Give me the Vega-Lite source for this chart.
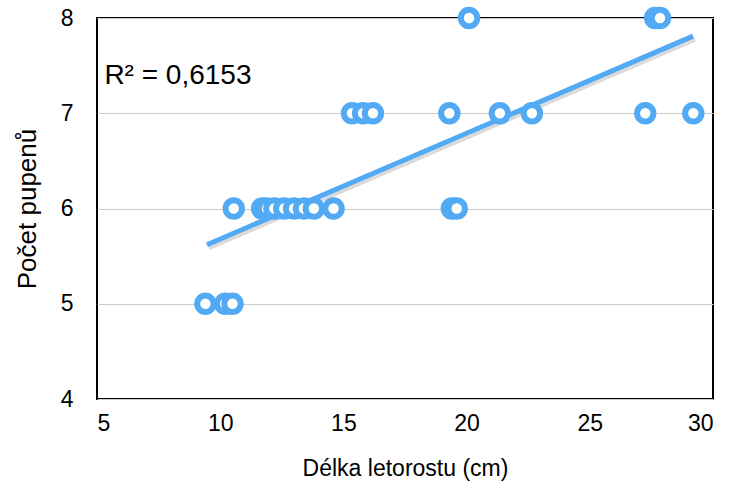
{
  "$schema": "https://vega.github.io/schema/vega-lite/v6.json",
  "autosize": "none",
  "width": 616,
  "height": 381,
  "padding": {"left": 97, "top": 18, "right": 18, "bottom": 91},
  "background": "white",
  "config": {
    "font": "Liberation Sans",
    "view": {"stroke": "black", "strokeWidth": 2},
    "axis": {"labelFont": "Liberation Sans", "titleFont": "Liberation Sans", "labelColor": "black", "titleColor": "black", "titleFontWeight": "normal", "domain": false, "ticks": false}
  },
  "datasets": {
    "pts": [
      {"len": 9.4, "buds": 5}, {"len": 10.2, "buds": 5}, {"len": 10.5, "buds": 5},
      {"len": 10.55, "buds": 6}, {"len": 11.7, "buds": 6}, {"len": 11.9, "buds": 6}, {"len": 12.2, "buds": 6},
      {"len": 12.6, "buds": 6}, {"len": 13.0, "buds": 6}, {"len": 13.4, "buds": 6}, {"len": 13.8, "buds": 6},
      {"len": 14.6, "buds": 6}, {"len": 19.4, "buds": 6}, {"len": 19.6, "buds": 6},
      {"len": 15.35, "buds": 7}, {"len": 15.8, "buds": 7}, {"len": 16.2, "buds": 7}, {"len": 19.3, "buds": 7},
      {"len": 21.35, "buds": 7}, {"len": 22.65, "buds": 7}, {"len": 27.25, "buds": 7}, {"len": 29.2, "buds": 7},
      {"len": 20.1, "buds": 8}, {"len": 27.65, "buds": 8}, {"len": 27.85, "buds": 8}
    ],
    "trend": [{"len": 9.46, "buds": 5.62}, {"len": 29.19, "buds": 7.81}],
    "r2": [{"len": 5.3, "buds": 7.39, "label": "R² = 0,6153"}]
  },
  "layer": [
    {
      "data": {"name": "trend"},
      "mark": {"type": "line", "color": "#000000", "opacity": 0.14, "strokeWidth": 5, "xOffset": 2, "yOffset": 3, "clip": false},
      "encoding": {
        "x": {"field": "len", "type": "quantitative", "scale": {"domain": [5, 30], "nice": false}},
        "y": {"field": "buds", "type": "quantitative", "scale": {"domain": [4, 8], "nice": false}}
      }
    },
    {
      "data": {"name": "trend"},
      "mark": {"type": "line", "color": "#52A9F4", "strokeWidth": 5, "clip": false},
      "encoding": {
        "x": {"field": "len", "type": "quantitative", "scale": {"domain": [5, 30], "nice": false},
          "axis": {"values": [5, 10, 15, 20, 25, 30], "format": "d", "grid": false, "labelFontSize": 23, "labelPadding": 13, "title": "Délka letorostu (cm)", "titleFontSize": 23, "titlePadding": 22}},
        "y": {"field": "buds", "type": "quantitative", "scale": {"domain": [4, 8], "nice": false},
          "axis": {"values": [4, 5, 6, 7, 8], "format": "d", "grid": true, "gridColor": "#cccccc", "gridWidth": 1, "labelFontSize": 23, "labelPadding": 24, "title": "Počet pupenů", "titleFontSize": 26, "titlePadding": 20}}
      }
    },
    {
      "data": {"name": "pts"},
      "mark": {"type": "point", "shape": "circle", "filled": false, "fill": "white", "fillOpacity": 1, "stroke": "#52A9F4", "strokeWidth": 6, "size": 270, "opacity": 1, "clip": false},
      "encoding": {
        "x": {"field": "len", "type": "quantitative"},
        "y": {"field": "buds", "type": "quantitative"}
      }
    },
    {
      "data": {"name": "r2"},
      "mark": {"type": "text", "align": "left", "baseline": "middle", "fontSize": 28, "font": "Liberation Sans", "color": "black"},
      "encoding": {
        "x": {"field": "len", "type": "quantitative"},
        "y": {"field": "buds", "type": "quantitative"},
        "text": {"field": "label"}
      }
    }
  ]
}
